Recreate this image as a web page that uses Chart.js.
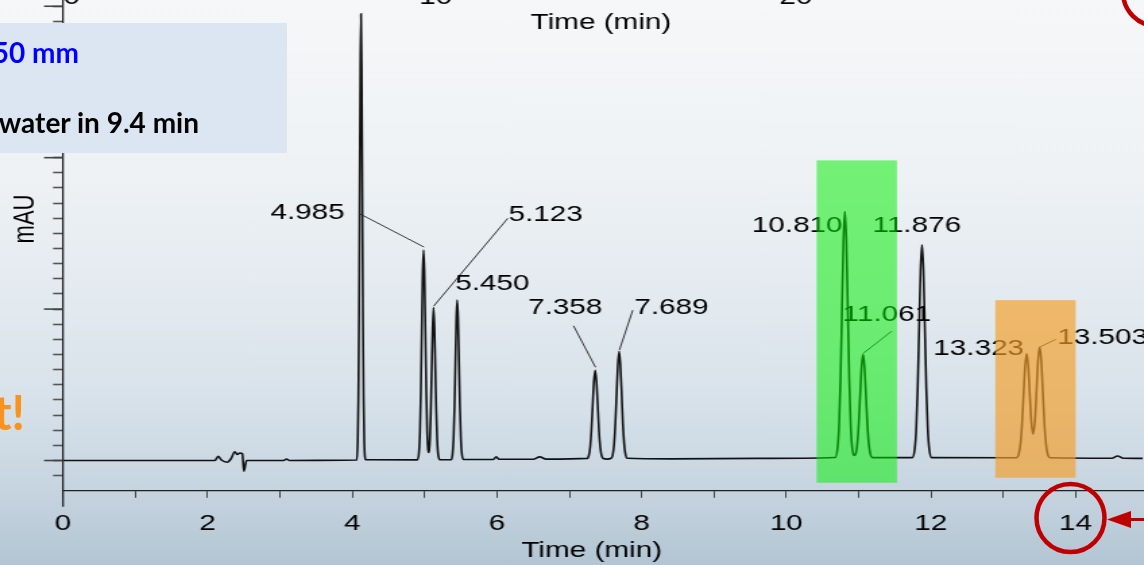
<!DOCTYPE html>
<html>
<head>
<meta charset="utf-8">
<script src="https://cdn.jsdelivr.net/npm/chart.js@4.4.1/dist/chart.umd.min.js"></script>
<style>
  html, body { margin: 0; padding: 0; }
  body {
    width: 1144px; height: 565px; overflow: hidden; position: relative;
    background: linear-gradient(to bottom, #f6f7f9 0%, #eef2f5 30%, #e2e9ef 55%, #d8e2ea 70%, #c8d6e1 85%, #b3c5d3 100%);
  }
  /* the trace is drawn narrow and widened, like the pasted chromatogram */
  #stretch { position: absolute; left: 0; top: 0; width: 848px; height: 565px; transform: scaleX(1.349); transform-origin: 0 0; }
  #marks { position: absolute; left: 0; top: 0; pointer-events: none; }
</style>
</head>
<body>
<div id="stretch"><canvas id="chromatogram"></canvas></div>

<svg id="marks" width="1144" height="565" viewBox="0 0 1144 565">
  <rect x="0" y="23" width="287" height="130" fill="#dce6f2"/>
  <text x="79" y="63" text-anchor="end" fill="#0000ff" font-family="Lato" font-weight="700" font-size="28">50 mm</text>
  <text x="199" y="133" text-anchor="end" fill="#000" font-family="Lato" font-weight="700" font-size="28">water in 9.4 min</text>
  <text x="25" y="430" text-anchor="end" fill="#f7931e" font-family="Lato" font-weight="700" font-size="48">t!</text>
  <circle cx="1070.5" cy="518" r="34" fill="none" stroke="#c00000" stroke-width="4.5"/>
  <circle cx="1157" cy="-8" r="34" fill="none" stroke="#c00000" stroke-width="4.5"/>
  <line x1="1144" y1="519.5" x2="1124" y2="519.5" stroke="#c00000" stroke-width="3"/>
  <polygon points="1107,519.5 1131,511 1131,528" fill="#c00000"/>
</svg>

<script>
// chromatogram trace: time (min) and detector signal (mAU)
const traceMin = [
  0, 2.10, 2.145, 2.19, 2.27, 2.32, 2.376, 2.41, 2.445, 2.48, 2.50, 2.537, 3.05, 3.09, 3.13, 3.9,
  4.062, 4.075, 4.084, 4.093, 4.102, 4.111, 4.12, 4.129, 4.138, 4.147, 4.156, 4.165, 4.185,
  4.90, 4.922, 4.935, 4.948, 4.960, 4.972, 4.985, 4.998, 5.010, 5.022, 5.035, 5.047, 5.055,
  5.063, 5.073, 5.085, 5.098, 5.110, 5.123, 5.136, 5.148, 5.160, 5.173, 5.185, 5.21,
  5.37, 5.387, 5.400, 5.413, 5.425, 5.438, 5.450, 5.462, 5.475, 5.487, 5.500, 5.513, 5.535,
  5.95, 5.99, 6.03, 6.50, 6.59, 6.68,
  7.25, 7.27, 7.288, 7.305, 7.323, 7.340, 7.358, 7.375, 7.393, 7.41, 7.428, 7.445, 7.47,
  7.52,
  7.58, 7.60, 7.619, 7.636, 7.654, 7.671, 7.689, 7.706, 7.724, 7.741, 7.759, 7.776, 7.80,
  8.4, 9.6,
  10.675, 10.71, 10.73, 10.75, 10.77, 10.79, 10.81, 10.83, 10.85, 10.87, 10.89, 10.91, 10.935,
  10.961, 10.981, 11.001, 11.021, 11.041, 11.061, 11.081, 11.101, 11.121, 11.141, 11.161, 11.19,
  11.74, 11.776, 11.796, 11.816, 11.836, 11.856, 11.876, 11.896, 11.916, 11.936, 11.956, 11.976, 12.01,
  13.18, 13.215, 13.237, 13.258, 13.28, 13.301, 13.323, 13.345, 13.366, 13.388, 13.413,
  13.438, 13.46, 13.481, 13.503, 13.525, 13.546, 13.568, 13.589, 13.611, 13.65,
  14.5, 14.58, 14.66, 14.93
];
const traceMAU = [
  0, 0, 2.8, 0.3, -1.1, 1.0, 5.8, 4.0, 5.0, 4.6, -7.0, 0, 0, 1.0, 0, 0.2,
  0.3, 13, 41, 94, 180, 260, 295, 260, 180, 94, 41, 13, 0.5,
  0.4, 5.8, 18.8, 46.5, 84.8, 121.5, 139, 121.5, 84.8, 46.5, 19, 7.4, 5.3,
  6.8, 14, 32, 61, 87, 101, 87, 61, 34, 13.7, 4.7, 0.5,
  0.6, 5, 15, 36, 64.5, 94, 106, 94, 64.5, 36, 15, 5, 0.7,
  0.7, 2.4, 0.8, 0.8, 2.4, 0.9,
  1.4, 3.4, 8.8, 19.6, 36.5, 52.2, 59.6, 52.2, 36.5, 19.6, 8.8, 3.5, 1.3,
  0.95,
  1.6, 3.8, 10.6, 23.8, 44.2, 63.1, 72.2, 63.1, 44.2, 23.8, 10.6, 4.2, 1.5,
  1.1, 1.4,
  2.0, 8.8, 23.5, 54.3, 100.4, 145.3, 164.5, 145.3, 100.4, 54.3, 23.5, 8.9, 3.3,
  4.6, 10.8, 23.7, 43.1, 62, 70.1, 62, 43.1, 23.7, 10.8, 4.5, 1.9,
  1.9, 7.7, 20.5, 47.2, 87, 125.9, 142.5, 125.9, 87, 47.2, 20.5, 7.7, 1.9,
  1.8, 4.5, 10.8, 23.5, 43.3, 61.8, 70.5, 62.3, 44, 25.6, 17.4,
  26.9, 46.7, 66.1, 74.9, 66.1, 46.1, 24.8, 11.8, 4.8, 1.8,
  1.5, 3.0, 1.5, 1.4
];

// retention times printed over the peaks
const peakLabels = ['4.985', '5.123', '5.450', '7.358', '7.689', '10.810', '11.061', '11.876', '13.323', '13.503'];

// time axis
const timeTicks = [0, 1, 2, 3, 4, 5, 6, 7, 8, 9, 10, 11, 12, 13, 14];
const timeLabels = ['0', '', '2', '', '4', '', '6', '', '8', '', '10', '', '12', '', '14'];

// signal axis: short tick every 10, long tick every 100
const yMajorTicks = [0, 100, 200, 300];
const yMinorTicks = [];
for (let v = -10; v <= 300; v += 10) yMinorTicks.push(v);

// where each retention time sits (min, mAU) and its leader line
const labelSpots = [
  { at: [3.895, 163.7], align: 'right', leader: [[4.088, 163.3], [4.99, 141]] },
  { at: [6.16, 162.4], align: 'left', leader: [[6.15, 160], [5.125, 102]] },
  { at: [5.424, 116.3], align: 'left' },
  { at: [7.458, 100.5], align: 'right', leader: [[7.058, 89], [7.362, 61.6]] },
  { at: [7.90, 101], align: 'left', leader: [[7.877, 99.3], [7.693, 73]] },
  { at: [10.778, 155], align: 'right' },
  { at: [10.778, 96], align: 'left', leader: [[11.46, 85.5], [11.064, 70.8]] },
  { at: [11.192, 154.7], align: 'left' },
  { at: [13.287, 74], align: 'right' },
  { at: [13.747, 80.7], align: 'left', leader: [[13.725, 80], [13.508, 75]] }
];

// shaded windows over the peak pairs
const highlights = [
  { from: 10.42, to: 11.53, top: 198.2, bottom: -14.7, color: 'rgba(0, 240, 0, 0.52)' },
  { from: 12.89, to: 14.0, top: 105.9, bottom: -11.4, color: 'rgba(245, 158, 38, 0.66)' }
];

const textFont = '22px "Liberation Sans", Arial, sans-serif';

const chromNotes = {
  id: 'chromNotes',
  afterDatasetsDraw(chart) {
    const { ctx, chartArea, scales: { x, y } } = chart;
    ctx.save();

    // long ticks on the signal axis
    ctx.strokeStyle = '#444';
    ctx.lineWidth = 1.6;
    yMajorTicks.forEach(v => {
      const py = y.getPixelForValue(v);
      ctx.beginPath();
      ctx.moveTo(chartArea.left - 14.1, py);
      ctx.lineTo(chartArea.left, py);
      ctx.stroke();
    });

    // signal axis runs a little past the time axis
    ctx.strokeStyle = '#222';
    ctx.lineWidth = 1.3;
    ctx.beginPath();
    ctx.moveTo(chartArea.left, chartArea.bottom);
    ctx.lineTo(chartArea.left, chartArea.bottom + 16);
    ctx.stroke();

    ctx.fillStyle = '#000';
    ctx.font = textFont;

    // axis titles
    ctx.textAlign = 'center';
    ctx.textBaseline = 'middle';
    ctx.fillText('Time (min)', x.getPixelForValue(7.31), 551);
    ctx.fillText('Time (min)', 445.5, 23);
    ctx.textBaseline = 'alphabetic';
    ctx.fillText('0', 53, 4);
    ctx.fillText('10', 323, 4);
    ctx.fillText('20', 590, 4);

    ctx.save();
    ctx.translate(19.3, 219);
    ctx.rotate(-Math.PI / 2);
    ctx.textBaseline = 'middle';
    ctx.fillText('mAU', 0, 0);
    ctx.restore();

    // retention time labels
    ctx.textBaseline = 'middle';
    ctx.strokeStyle = '#222';
    ctx.lineWidth = 0.9;
    peakLabels.forEach((txt, i) => {
      const spot = labelSpots[i];
      ctx.textAlign = spot.align;
      ctx.fillText(txt, x.getPixelForValue(spot.at[0]), y.getPixelForValue(spot.at[1]));
      if (spot.leader) {
        const [a, b] = spot.leader;
        ctx.beginPath();
        ctx.moveTo(x.getPixelForValue(a[0]), y.getPixelForValue(a[1]));
        ctx.lineTo(x.getPixelForValue(b[0]), y.getPixelForValue(b[1]));
        ctx.stroke();
      }
    });

    // translucent windows go over trace and text
    highlights.forEach(h => {
      const x0 = x.getPixelForValue(h.from), x1 = x.getPixelForValue(h.to);
      const y0 = y.getPixelForValue(h.top), y1 = y.getPixelForValue(h.bottom);
      ctx.fillStyle = h.color;
      ctx.fillRect(x0, y0, x1 - x0, y1 - y0);
    });

    ctx.restore();
  }
};

new Chart(document.getElementById('chromatogram'), {
  type: 'line',
  data: {
    datasets: [{
      data: traceMin.map((t, i) => ({ x: t, y: traceMAU[i] })),
      borderColor: '#111',
      borderWidth: 1.6,
      pointRadius: 0,
      fill: false,
      cubicInterpolationMode: 'monotone'
    }]
  },
  options: {
    responsive: true,
    maintainAspectRatio: false,
    animation: false,
    devicePixelRatio: 1,
    layout: { padding: { left: 39.3, right: 0, top: 0, bottom: 14.8 } },
    plugins: { legend: { display: false }, tooltip: { enabled: false } },
    scales: {
      x: {
        type: 'linear',
        min: 0,
        max: 14.93,
        afterBuildTicks: scale => { scale.ticks = timeTicks.map(v => ({ value: v })); },
        grid: { drawOnChartArea: false, tickLength: 7, tickColor: '#444', tickWidth: 1 },
        border: { color: '#222', width: 1.2 },
        ticks: {
          autoSkip: false,
          maxRotation: 0,
          padding: 13,
          color: '#000',
          font: { family: '"Liberation Sans", Arial, sans-serif', size: 22 },
          callback: (v, i) => timeLabels[i]
        }
      },
      y: {
        min: -20,
        max: 303.6,
        afterBuildTicks: scale => { scale.ticks = yMinorTicks.map(v => ({ value: v })); },
        grid: { drawOnChartArea: false, tickLength: 7.4, tickColor: '#555', tickWidth: 1.6 },
        border: { color: '#222', width: 1.3 },
        ticks: { display: false }
      }
    }
  },
  plugins: [chromNotes]
});
</script>
</body>
</html>
